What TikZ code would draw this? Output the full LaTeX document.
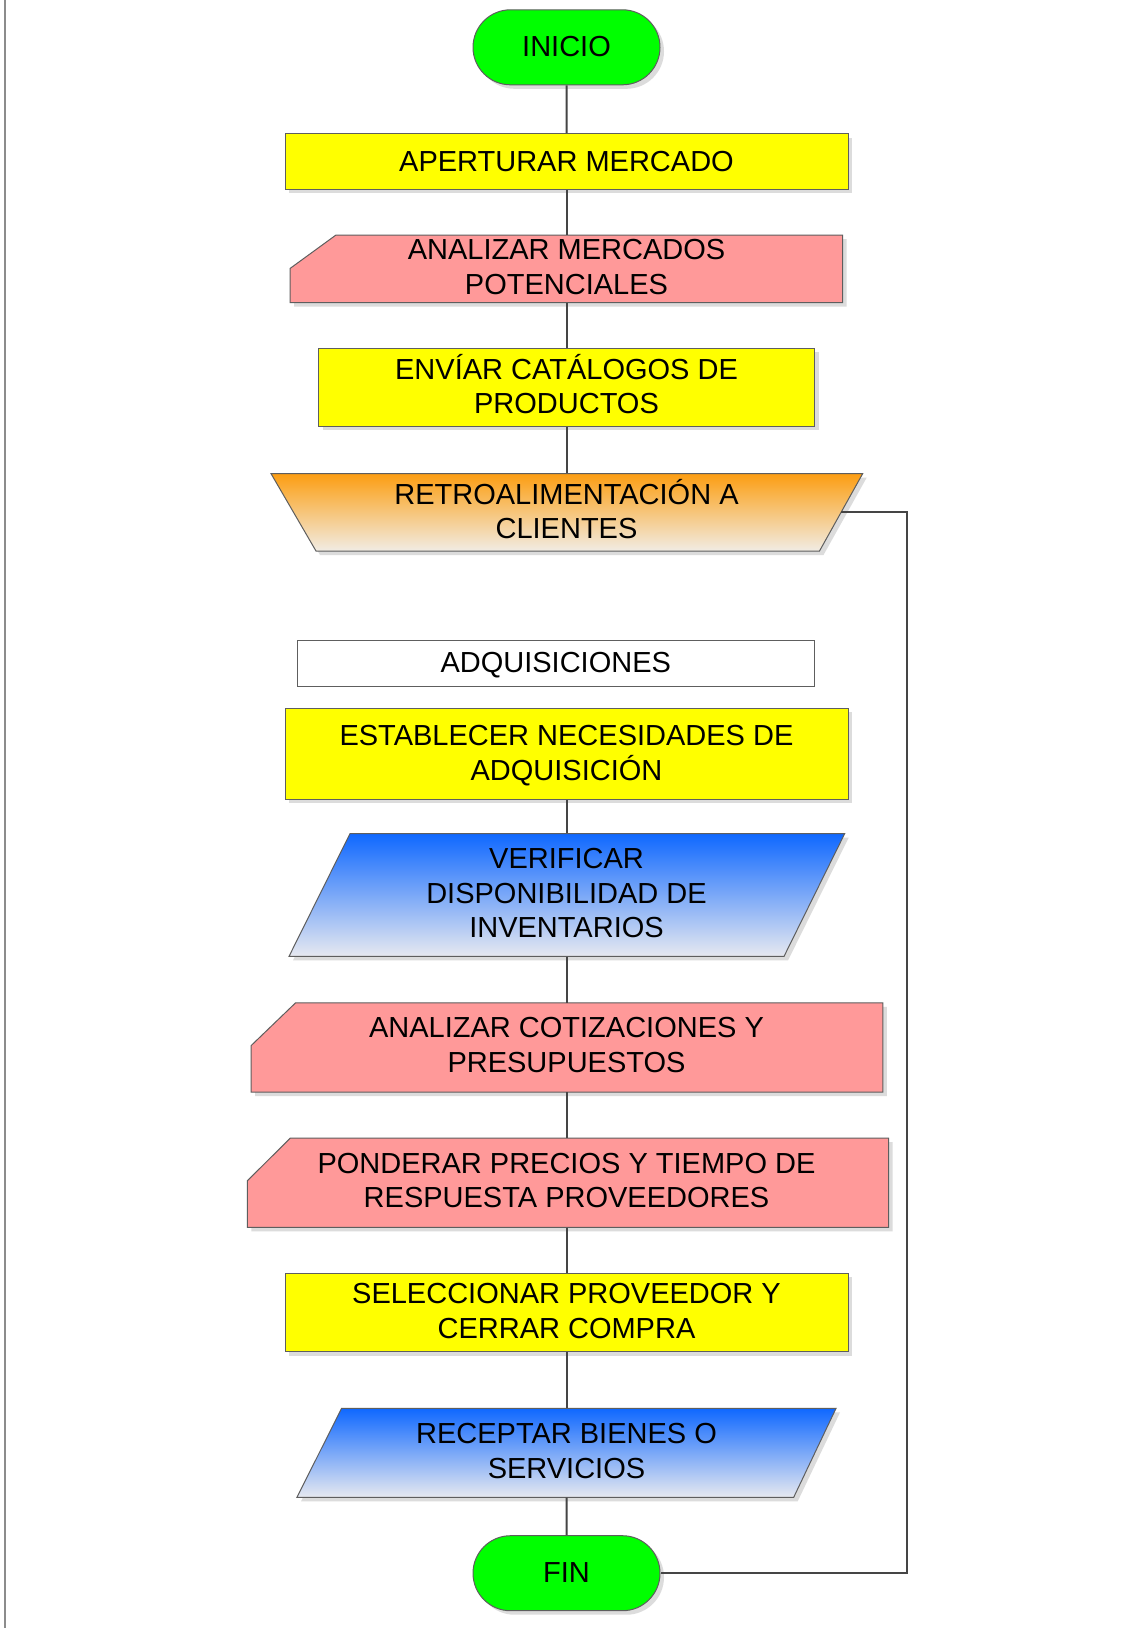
\documentclass[tikz,border=0pt]{standalone}
\usepackage{fontspec}
\setmainfont{Liberation Sans}
\usetikzlibrary{shapes.misc,shadows}

\definecolor{edgegray}{HTML}{5E5E5E}
\definecolor{linegray}{HTML}{454545}
\definecolor{shadowgray}{HTML}{DCDCDC}
\definecolor{pagegray}{HTML}{8C8C8C}
\definecolor{termgreen}{HTML}{00FF00}
\definecolor{stepyellow}{HTML}{FFFF00}
\definecolor{notepink}{HTML}{FF9999}
\definecolor{orangetop}{HTML}{FC9E12}
\definecolor{orangebot}{HTML}{F1ECE4}
\definecolor{bluetop}{HTML}{0F68FF}
\definecolor{bluebot}{HTML}{E7E9F0}

% outlines of the drawn (non-node) shapes
\newcommand\pathmerc{(290,302.5) -- (842.5,302.5) -- (842.5,235) -- (336,235) -- (290,268.5) -- cycle}
\newcommand\pathretro{(271,473.6) -- (862.7,473.6) -- (819.5,551) -- (316,551) -- cycle}
\newcommand\pathverif{(350,833.6) -- (844.7,833.6) -- (784,956.4) -- (289,956.4) -- cycle}
\newcommand\pathcot{(251,1092) -- (882.8,1092) -- (882.8,1002.9) -- (295.5,1002.9) -- (251,1045.7) -- cycle}
\newcommand\pathpond{(247.3,1227.3) -- (888.6,1227.3) -- (888.6,1138) -- (290.4,1138) -- (247.3,1180.8) -- cycle}
\newcommand\pathrecep{(341.5,1408.4) -- (836,1408.4) -- (793.7,1497.3) -- (297,1497.3) -- cycle}

\begin{document}
\begin{tikzpicture}[x=1pt,y=-1pt,
  every node/.style={font=\fontsize{29}{34.5}\selectfont, align=center, inner sep=0pt, text=black, text depth=4pt},
  outline/.style={draw=edgegray, line width=1pt},
  shadowcopy/.style={fill=shadowgray, shift={(4,4)}},
  boxshadow/.style={drop shadow={shadow xshift=4pt, shadow yshift=-4pt, fill=shadowgray, opacity=1}},
  terminal/.style={rounded rectangle, outline, fill=termgreen, boxshadow, minimum width=187pt, minimum height=75pt, text depth=2pt},
  process/.style={rectangle, outline, fill=stepyellow, boxshadow},
  label/.style={rectangle, outline, fill=white},
  conn/.style={draw=linegray, line width=2pt},
]
\useasboundingbox[fill=white] (0,0) rectangle (1127,1628);

% page rule on the left
\draw[pagegray, line width=2pt] (4.5,0) -- (4.5,1628);

% drawn shapes: shadows first, then the filled outlines
\fill[shadowcopy] \pathmerc;
\fill[shadowcopy] \pathretro;
\fill[shadowcopy] \pathverif;
\fill[shadowcopy] \pathcot;
\fill[shadowcopy] \pathpond;
\fill[shadowcopy] \pathrecep;

\draw[outline, fill=notepink] \pathmerc;
\draw[outline, top color=orangetop, bottom color=orangebot] \pathretro;
\draw[outline, top color=bluetop, bottom color=bluebot] \pathverif;
\draw[outline, fill=notepink] \pathcot;
\draw[outline, fill=notepink] \pathpond;
\draw[outline, top color=bluetop, bottom color=bluebot] \pathrecep;

% nodes
\node[terminal] (inicio) at (566.5,47.3) {INICIO};
\node[process, minimum width=563pt, minimum height=55.7pt, text depth=0pt] (apert) at (566.5,161.45) {APERTURAR MERCADO};
\node[minimum height=67.5pt] (merc) at (566.5,268.75) {ANALIZAR MERCADOS\\POTENCIALES};
\node[process, minimum width=496pt, minimum height=78pt, text depth=6pt] (envia) at (566.5,387) {ENVÍAR CATÁLOGOS DE\\PRODUCTOS};
\node[minimum height=77.4pt, text depth=7pt] (retro) at (566.5,512.3) {RETROALIMENTACIÓN A\\CLIENTES};

\node[label, minimum width=517.5pt, minimum height=45.7pt, text depth=2.5pt] (adq) at (555.75,663.55) {ADQUISICIONES};
\node[process, minimum width=563pt, minimum height=91.3pt, text depth=2pt] (estab) at (566.5,753.65) {ESTABLECER NECESIDADES DE\\ADQUISICIÓN};
\node[minimum height=122.8pt] (verif) at (566.5,895) {VERIFICAR\\DISPONIBILIDAD DE\\INVENTARIOS};
\node[minimum height=89.1pt, text depth=5pt] (cotiz) at (566.5,1047.45) {ANALIZAR COTIZACIONES Y\\PRESUPUESTOS};
\node[minimum height=89.3pt, text depth=5pt] (ponder) at (566.5,1182.65) {PONDERAR PRECIOS Y TIEMPO DE\\RESPUESTA PROVEEDORES};
\node[process, minimum width=563pt, minimum height=78.5pt] (selec) at (566.5,1312.65) {SELECCIONAR PROVEEDOR Y\\CERRAR COMPRA};
\node[minimum height=88.9pt] (recep) at (566.5,1452.85) {RECEPTAR BIENES O\\SERVICIOS};
\node[terminal] (fin) at (566.5,1573.2) {FIN};

% connectors
\draw[conn] (inicio) -- (apert);
\draw[conn] (apert) -- (merc);
\draw[conn] (merc) -- (envia);
\draw[conn] (envia) -- (retro);
\draw[conn] (estab) -- (verif);
\draw[conn] (verif) -- (cotiz);
\draw[conn] (cotiz) -- (ponder);
\draw[conn] (ponder) -- (selec);
\draw[conn] (selec) -- (recep);
\draw[conn] (recep) -- (fin);

\coordinate (retroexit) at (841.4,511.7);
\coordinate (loopturn) at (906.5,511.7);
\draw[conn] (retroexit) -- (loopturn) |- (fin.east);
\end{tikzpicture}
\end{document}
